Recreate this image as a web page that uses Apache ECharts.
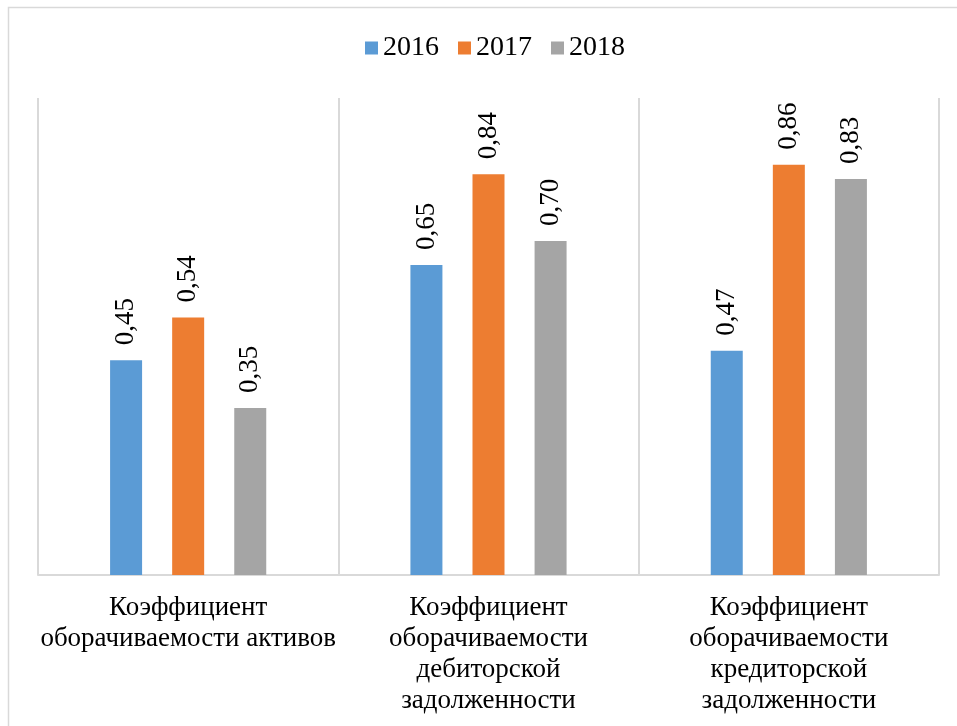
<!DOCTYPE html>
<html>
<head>
<meta charset="utf-8">
<script src="https://cdn.jsdelivr.net/npm/echarts@6/dist/echarts.min.js"></script>
<style>
  html, body { margin: 0; padding: 0; background: #ffffff; }
  #chart { width: 957px; height: 726px; }
</style>
</head>
<body>
<div id="chart"></div>
<script>
// Turnover ratios by year
const categories = [
  'Коэффициент\nоборачиваемости активов',
  'Коэффициент\nоборачиваемости\nдебиторской\nзадолженности',
  'Коэффициент\nоборачиваемости\nкредиторской\nзадолженности'
];
const years = ['2016', '2017', '2018'];
const values2016 = [0.45, 0.65, 0.47];
const values2017 = [0.54, 0.84, 0.86];
const values2018 = [0.35, 0.70, 0.83];
const colors = ['#5B9BD5', '#ED7D31', '#A5A5A5'];

const FONT = '"Liberation Serif", "Times New Roman", serif';

const chart = echarts.init(document.getElementById('chart'), null, { renderer: 'canvas' });

function makeSeries(name, data, color) {
  return {
    name: name,
    type: 'bar',
    data: data,
    barWidth: 32,
    barGap: '94%',
    itemStyle: { color: color },
    label: {
      show: true,
      position: 'top',
      rotate: 90,
      align: 'left',
      verticalAlign: 'middle',
      distance: 15,
      color: '#000000',
      fontFamily: FONT,
      fontSize: 27,
      formatter: p => p.value.toFixed(2).replace('.', ',')
    }
  };
}

chart.setOption({
  backgroundColor: '#ffffff',
  animation: false,
  graphic: [{
    type: 'rect',
    shape: { x: 8.5, y: 7.5, width: 970, height: 740 },
    style: { fill: 'none', stroke: '#d9d9d9', lineWidth: 1.5 },
    silent: true
  }],
  legend: {
    data: years,
    top: 29,
    left: 360,
    itemWidth: 13,
    itemHeight: 13,
    itemGap: 19,
    icon: 'rect',
    textStyle: { fontFamily: FONT, fontSize: 28, color: '#000000' }
  },
  grid: { left: 38, right: 18, top: 98, bottom: 151 },
  xAxis: {
    type: 'category',
    data: categories,
    axisTick: { show: false },
    axisLine: { show: true, lineStyle: { color: '#d9d9d9', width: 2 } },
    splitLine: { show: true, interval: 0, lineStyle: { color: '#d9d9d9', width: 2 } },
    axisLabel: {
      interval: 0,
      margin: 17,
      fontFamily: FONT,
      fontSize: 27,
      lineHeight: 31,
      color: '#000000'
    }
  },
  yAxis: {
    type: 'value',
    min: 0,
    max: 1,
    show: false,
    splitLine: { show: false }
  },
  series: [
    makeSeries(years[0], values2016, colors[0]),
    makeSeries(years[1], values2017, colors[1]),
    makeSeries(years[2], values2018, colors[2])
  ]
});
</script>
</body>
</html>
